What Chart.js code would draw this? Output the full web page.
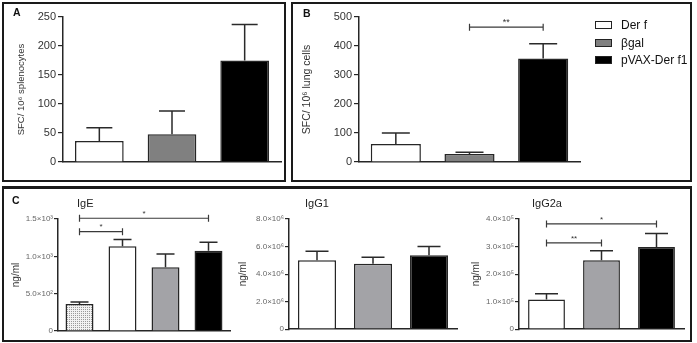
<!DOCTYPE html>
<html><head><meta charset="utf-8">
<script src="https://cdn.jsdelivr.net/npm/chart.js@4.4.1/dist/chart.umd.min.js"></script>
<style>
html,body{margin:0;padding:0;background:#fff;}
body{width:697px;height:343px;position:relative;overflow:hidden;font-family:'Liberation Sans',Arial,sans-serif;}
.panel{position:absolute;box-sizing:border-box;border:2px solid #1a1a1a;}
canvas{position:absolute;}
.lbl{position:absolute;font-weight:bold;font-size:10.5px;line-height:1;color:#111;}
.sub{position:absolute;font-size:11px;line-height:1;color:#222;}
.lbox{position:absolute;left:595px;width:17px;height:8px;box-sizing:border-box;border:1.5px solid #222;}
.ltxt{position:absolute;left:621px;font-size:12px;line-height:1;color:#111;white-space:nowrap;}
</style></head>
<body>
<div class="panel" style="left:2px;top:2px;width:284px;height:180px;"></div>
<div class="panel" style="left:291px;top:2px;width:401px;height:180px;"></div>
<div class="panel" style="left:2px;top:186px;width:690px;height:156px;border-top-width:3px;"></div>

<canvas id="cA" width="278" height="172" style="left:5px;top:5px;"></canvas>
<canvas id="cB" width="290" height="172" style="left:294px;top:5px;"></canvas>
<canvas id="cE" width="230" height="133" style="left:5px;top:205px;"></canvas>
<canvas id="cG1" width="225" height="130" style="left:237px;top:205px;"></canvas>
<canvas id="cG2" width="222" height="130" style="left:467px;top:205px;"></canvas>

<div class="lbl" style="left:13px;top:7px;">A</div>
<div class="lbl" style="left:303px;top:8px;">B</div>
<div class="lbl" style="left:12px;top:195px;">C</div>
<div class="sub" style="left:77px;top:198px;">IgE</div>
<div class="sub" style="left:305px;top:198px;">IgG1</div>
<div class="sub" style="left:532px;top:198px;">IgG2a</div>

<div id="legend"></div>

<script>
// ---------- data ----------
const groupsAB = ['Der f', 'βgal', 'pVAX-Der f1'];
const colorsAB = ['#ffffff', '#808080', '#000000'];
const spleenMean = [36, 48, 175];
const spleenErr = [23, 40, 62];
const spleenTicks = ['0', '50', '100', '150', '200', '250'];
const lungMean = [62, 28, 357];
const lungErr = [38, 6, 51];
const lungTicks = ['0', '100', '200', '300', '400', '500'];
const lungSig = [{from: 1, to: 2, value: 465, label: '**'}];

const igeGroups = ['Control', 'Der f', 'βgal', 'pVAX-Der f1'];
const igeMean = [360, 1135, 855, 1075];
const igeErr = [30, 90, 175, 115];
const igeTicks = ['0', '5.0×10²', '1.0×10³', '1.5×10³'];
const igeSig = [{from: 0, to: 1, value: 1330, label: '*'}, {from: 0, to: 3, value: 1510, label: '*'}];

const iggGroups = ['Der f', 'βgal', 'pVAX-Der f1'];
const igg1Mean = [5.0e6, 4.75e6, 5.37e6];
const igg1Err = [0.65e6, 0.47e6, 0.63e6];
const igg1Ticks = ['0', '2.0×10⁶', '4.0×10⁶', '6.0×10⁶', '8.0×10⁶'];
const igg2aMean = [1.08e5, 2.5e5, 2.98e5];
const igg2aErr = [0.21e5, 0.35e5, 0.49e5];
const igg2aTicks = ['0', '1.0×10⁵', '2.0×10⁵', '3.0×10⁵', '4.0×10⁵'];
const igg2aSig = [{from: 0, to: 1, value: 3.13e5, label: '**'}, {from: 0, to: 2, value: 3.82e5, label: '*'}];

// ---------- helpers ----------
const FF = "'Liberation Sans', Arial, sans-serif";
const greyC = '#a3a3a7';

function dots() {
  const c = document.createElement('canvas'); c.width = 2; c.height = 2;
  const x = c.getContext('2d');
  x.fillStyle = '#f2f2f2'; x.fillRect(0, 0, 2, 2);
  x.fillStyle = '#9a9a9a'; x.fillRect(0, 0, 1, 1);
  return x.createPattern(c, 'repeat');
}

function overlay(err, sig, cap, sigFont) {
  return {
    id: 'overlay',
    afterDatasetsDraw(chart) {
      const ctx = chart.ctx, meta = chart.getDatasetMeta(0), y = chart.scales.y;
      const vals = chart.data.datasets[0].data;
      ctx.save();
      ctx.strokeStyle = '#2a2a2a'; ctx.lineWidth = 1.5;
      meta.data.forEach((bar, i) => {
        const yt = y.getPixelForValue(vals[i] + err[i]);
        ctx.beginPath();
        ctx.moveTo(bar.x, bar.y); ctx.lineTo(bar.x, yt);
        ctx.moveTo(bar.x - cap / 2, yt); ctx.lineTo(bar.x + cap / 2, yt);
        ctx.stroke();
      });
      sig.forEach(s => {
        const x1 = meta.data[s.from].x, x2 = meta.data[s.to].x, yy = y.getPixelForValue(s.value);
        ctx.strokeStyle = '#3a3a3a'; ctx.lineWidth = 1.2;
        ctx.beginPath();
        ctx.moveTo(x1, yy); ctx.lineTo(x2, yy);
        ctx.moveTo(x1, yy - 3.5); ctx.lineTo(x1, yy + 3.5);
        ctx.moveTo(x2, yy - 3.5); ctx.lineTo(x2, yy + 3.5);
        ctx.stroke();
        ctx.fillStyle = '#333'; ctx.font = sigFont; ctx.textAlign = 'center'; ctx.textBaseline = 'bottom';
        ctx.fillText(s.label, (x1 + x2) / 2, yy - 0.5);
      });
      ctx.restore();
    }
  };
}

function barChart(id, labels, values, colors, err, sig, o) {
  return new Chart(document.getElementById(id), {
    type: 'bar',
    data: {labels: labels, datasets: [{data: values, backgroundColor: colors, borderColor: '#262626',
      borderWidth: 1.5, barPercentage: o.bp, categoryPercentage: 1}]},
    options: {
      responsive: false, animation: false, events: [],
      layout: {padding: o.pad},
      plugins: {legend: {display: false}, tooltip: {enabled: false}},
      scales: {
        x: {grid: {display: false}, ticks: {display: false},
            border: {color: '#262626', width: 1.5},
            afterFit(s) { s.height = 0; }},
        y: {min: 0, max: o.max,
            ticks: {stepSize: o.step, color: o.tickColor, padding: o.tickPad,
                    font: {size: o.tickSize, family: FF},
                    callback: (v, i) => o.tickLabels[i]},
            grid: {drawOnChartArea: false, color: '#262626', tickLength: o.tickLen, lineWidth: 1.2},
            border: {color: '#262626', width: 1.5},
            title: {display: true, text: o.title, color: '#333', font: {size: o.titleSize, family: FF},
                    padding: {top: o.titlePad, bottom: 0}},
            afterFit(s) { s.width = o.yWidth; }}
      }
    },
    plugins: [overlay(err, sig, o.cap, o.sigFont)]
  });
}

// ---------- charts ----------
barChart('cA', groupsAB, spleenMean, colorsAB, spleenErr, [], {
  bp: 0.67, pad: {top: 12, bottom: 15, right: 2, left: 0}, max: 250, step: 50,
  tickLabels: spleenTicks, tickColor: '#333', tickSize: 11, tickPad: 2, tickLen: 5,
  title: 'SFC/ 10⁶ splenocytes', titleSize: 9.5, titlePad: 11, yWidth: 58, cap: 26, sigFont: '9px ' + FF});

barChart('cB', groupsAB, lungMean, colorsAB, lungErr, lungSig, {
  bp: 0.68, pad: {top: 12, bottom: 15, right: 4, left: 0}, max: 500, step: 100,
  tickLabels: lungTicks, tickColor: '#333', tickSize: 11, tickPad: 2, tickLen: 5,
  title: 'SFC/ 10⁶ lung cells', titleSize: 10.5, titlePad: 7, yWidth: 65, cap: 28, sigFont: '9px ' + FF});

barChart('cE', igeGroups, igeMean, [dots(), '#ffffff', greyC, '#000000'], igeErr, igeSig, {
  bp: 0.65, pad: {top: 14, bottom: 7, right: 5, left: 0}, max: 1500, step: 500,
  tickLabels: igeTicks, tickColor: '#666', tickSize: 8, tickPad: 1, tickLen: 4,
  title: 'ng/ml', titleSize: 10, titlePad: 5, yWidth: 53, cap: 18, sigFont: '8px ' + FF});

barChart('cG1', iggGroups, igg1Mean, ['#ffffff', greyC, '#000000'], igg1Err, [], {
  bp: 0.68, pad: {top: 14, bottom: 5, right: 5, left: 0}, max: 8e6, step: 2e6,
  tickLabels: igg1Ticks, tickColor: '#666', tickSize: 8, tickPad: 1, tickLen: 4,
  title: 'ng/ml', titleSize: 10, titlePad: 0, yWidth: 52, cap: 23, sigFont: '8px ' + FF});

barChart('cG2', iggGroups, igg2aMean, ['#ffffff', greyC, '#000000'], igg2aErr, igg2aSig, {
  bp: 0.67, pad: {top: 14, bottom: 5, right: 5, left: 0}, max: 4e5, step: 1e5,
  tickLabels: igg2aTicks, tickColor: '#666', tickSize: 8, tickPad: 1, tickLen: 4,
  title: 'ng/ml', titleSize: 10, titlePad: 3, yWidth: 52, cap: 23, sigFont: '8px ' + FF});

// ---------- legend (panel B) ----------
const legendTops = [21, 38.5, 56];
const leg = document.getElementById('legend');
groupsAB.forEach((g, i) => {
  const b = document.createElement('div'); b.className = 'lbox';
  b.style.top = legendTops[i] + 'px'; b.style.background = colorsAB[i];
  leg.appendChild(b);
  const t = document.createElement('div'); t.className = 'ltxt';
  t.style.top = (legendTops[i] - 2) + 'px'; t.textContent = g;
  leg.appendChild(t);
});
</script>
</body></html>
